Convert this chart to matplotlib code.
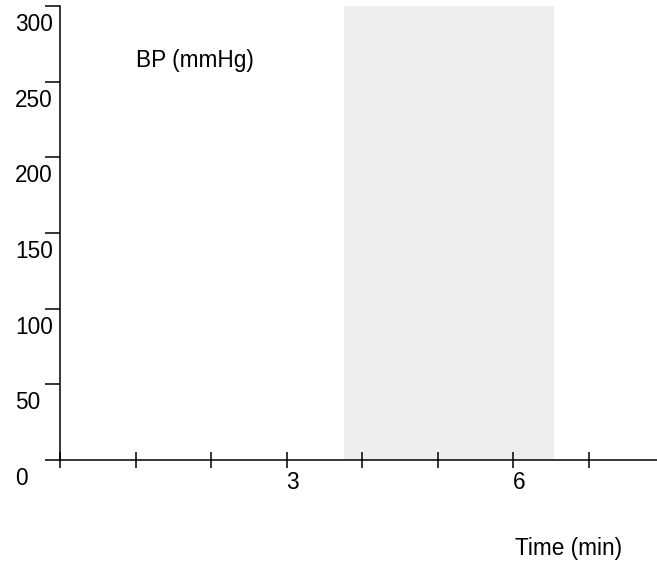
import matplotlib
matplotlib.use("Agg")
import matplotlib.pyplot as plt

plt.rcParams['font.family'] = ['Liberation Sans', 'DejaVu Sans']

# Data
x_ticks = [0, 1, 2, 3, 4, 5, 6, 7]
x_labeled = [3, 6]
y_ticks = [0, 50, 100, 150, 200, 250, 300]
shade_start, shade_end = 3.76, 6.54
x_max = 7.9
y_max = 300
y_label = "BP (mmHg)"
x_label = "Time (min)"

fig = plt.figure(figsize=(6.57, 5.67), dpi=100)
ax = fig.add_axes([60/657, (567-460)/567, 1 - 60/657, (460-6)/567])
ax.set_xlim(0, x_max)
ax.set_ylim(0, y_max)

ax.axvspan(shade_start, shade_end, color='#eeeeee', lw=0, zorder=0)

for s in ['top', 'right']:
    ax.spines[s].set_visible(False)
for s in ['left', 'bottom']:
    ax.spines[s].set_linewidth(1.1)
    ax.spines[s].set_color('black')

ax.set_xticks(x_ticks)
ax.set_xticklabels([])
ax.set_yticks(y_ticks)
ax.set_yticklabels([])
ax.tick_params(axis='x', direction='inout', length=11, width=1.1, color='black')
ax.tick_params(axis='y', direction='out', length=11, width=1.1, color='black')

for v in y_ticks:
    ax.annotate(str(v), xy=(0, v), xycoords=('axes fraction', 'data'),
                xytext=(-45, -7), textcoords='offset pixels',
                ha='left', va='top', fontsize=16.3)
for v in x_labeled:
    ax.annotate(str(v), xy=(v, 0), xycoords=('data', 'axes fraction'),
                xytext=(6, -11), textcoords='offset pixels',
                ha='center', va='top', fontsize=16.3)

fig.text(195/657, 1 - 61/567, y_label, ha='center', va='center', fontsize=16.3)
fig.text(569/657, 1 - 548/567, x_label, ha='center', va='center', fontsize=16.3)

fig.savefig("out.png", dpi=100)
